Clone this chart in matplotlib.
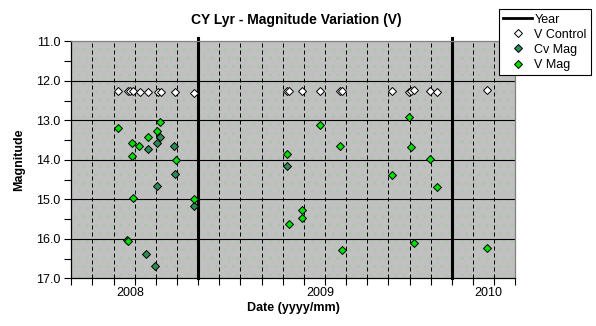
import matplotlib
matplotlib.use("Agg")
import matplotlib.pyplot as plt
from matplotlib.lines import Line2D
from matplotlib.patches import Rectangle
import numpy as np

plt.rcParams['font.family'] = ['Liberation Sans', 'DejaVu Sans']

# x = months from left edge of the axis
year_lines = [6, 18]
xlabel_pos = [2.81, 11.77, 19.74]
xlabel_txt = ["2008", "2009", "2010"]

ctrl_t = [2.19, 2.67, 2.79, 2.91, 3.23, 3.64, 4.09, 4.22, 4.91, 5.81,
          10.21, 10.30, 10.91, 11.76, 12.72, 12.81, 15.17, 15.98, 16.08, 16.21,
          16.96, 17.31, 19.66]
ctrl_mag = [12.27, 12.27, 12.27, 12.27, 12.28, 12.28, 12.28, 12.28, 12.28, 12.31,
            12.27, 12.27, 12.27, 12.27, 12.27, 12.27, 12.27, 12.28, 12.26, 12.24,
            12.27, 12.29, 12.24]

cv_t = [4.21, 4.06, 3.64, 4.88, 4.91, 4.06, 5.81, 2.63, 3.54, 3.94, 10.22]
cv_mag = [13.41, 13.57, 13.73, 13.65, 14.36, 14.66, 15.17, 16.02, 16.38, 16.69, 14.16]

v_t = [2.19, 4.21, 4.06, 3.64, 2.88, 3.21, 2.88, 4.93, 2.94, 5.81, 2.69,
       15.98, 11.76, 12.71, 16.08, 10.22, 16.96, 15.17, 17.31, 10.91, 10.91,
       10.30, 16.21, 12.82, 19.66]
v_mag = [13.19, 13.04, 13.27, 13.43, 13.57, 13.66, 13.90, 14.00, 14.97, 15.00, 16.05,
         12.92, 13.13, 13.66, 13.68, 13.85, 13.99, 14.38, 14.69, 15.27, 15.47,
         15.62, 16.11, 16.28, 16.23]

fig = plt.figure(figsize=(5.96, 3.26), dpi=100)
ax = fig.add_axes([0.1196, 0.1463, 0.745, 0.727])

ax.set_facecolor('#c0c0c0')
plt.rcParams['hatch.linewidth'] = 0.5
ax.add_patch(Rectangle((0, 0), 1, 1, transform=ax.transAxes, facecolor='none',
                       edgecolor='#a6c8a6', hatch='..', linewidth=0, zorder=0))

ax.set_xlim(0, 21)
ax.set_ylim(17, 11)

# grid
for m in range(1, 21):
    if m not in year_lines:
        ax.axvline(m, color='black', lw=0.72, linestyle=(0, (4, 3)), zorder=1)
for y in range(12, 17):
    ax.axhline(y, color='black', lw=0.8, zorder=1)

for yl in year_lines:
    ax.plot([yl, yl], [17, 10.92], color='black', lw=2.2, zorder=2, clip_on=False)

ms = 4
ax.plot(ctrl_t, ctrl_mag, 'D', ms=ms, mfc='white', mec='black', mew=0.7, zorder=3)
ax.plot(cv_t, cv_mag, 'D', ms=ms, mfc='#2e8b57', mec='black', mew=0.7, zorder=3)
ax.plot(v_t, v_mag, 'D', ms=ms, mfc='#00e000', mec='black', mew=0.7, zorder=4)

ax.set_xticks(range(0, 22))
ax.set_xticklabels([])
ax.set_xticks(xlabel_pos, labels=xlabel_txt, minor=True)
ax.tick_params(axis='x', which='major', direction='out', length=5, width=0.8)
ax.tick_params(axis='x', which='minor', length=0, pad=6, labelsize=9)

ax.set_yticks(np.arange(11, 17.5, 1))
ax.set_yticklabels([f"{v:.1f}" for v in np.arange(11, 17.5, 1)])
ax.set_yticks(np.arange(11.5, 17, 1), minor=True)
ax.tick_params(axis='y', which='both', direction='out', length=5, width=0.8, labelsize=9, pad=3)

ax.spines['left'].set_color('black')
ax.spines['bottom'].set_color('black')
ax.spines['top'].set_color('#808080')
ax.spines['right'].set_color('#808080')
for s in ax.spines.values():
    s.set_linewidth(0.9)

fig.text(0.498, 0.94, "CY Lyr - Magnitude Variation (V)", ha='center', va='center',
         fontsize=10, fontweight='bold')
ax.set_ylabel("Magnitude", fontsize=9, fontweight='bold', labelpad=8)
fig.text(0.492, 0.055, "Date (yyyy/mm)", ha='center', va='center',
         fontsize=9, fontweight='bold')

handles = [
    Line2D([], [], color='black', lw=2),
    Line2D([], [], marker='D', ls='none', ms=ms, mfc='white', mec='black', mew=0.7),
    Line2D([], [], marker='D', ls='none', ms=ms, mfc='#2e8b57', mec='black', mew=0.7),
    Line2D([], [], marker='D', ls='none', ms=ms, mfc='#00e000', mec='black', mew=0.7),
]
leg = fig.legend(handles, ["Year", "V Control", "Cv Mag", "V Mag"],
                 loc='upper left', bbox_to_anchor=(0.837, 0.972),
                 frameon=True, fancybox=False, framealpha=1, edgecolor='black',
                 fontsize=9, handlelength=2.3, handletextpad=0.2, labelspacing=0.25,
                 borderpad=0.35, borderaxespad=0)
leg.get_frame().set_linewidth(0.8)

fig.savefig("out.png", dpi=100)
